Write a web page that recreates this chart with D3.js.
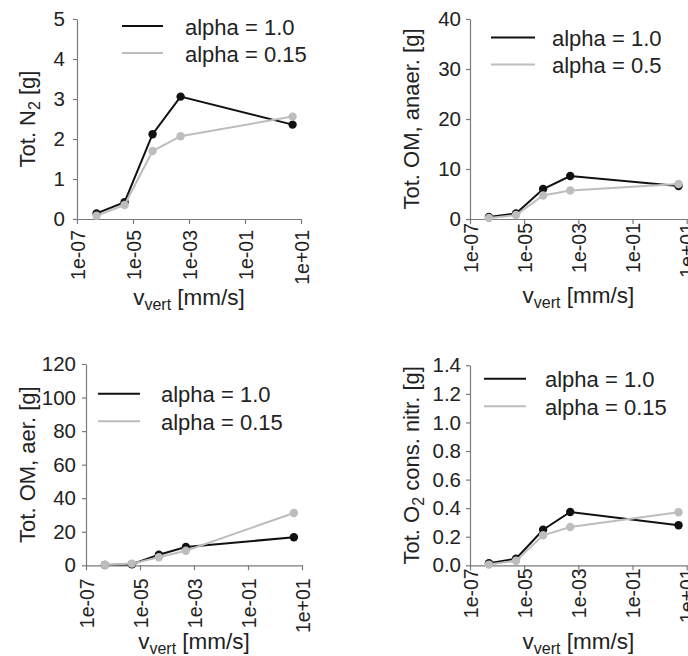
<!DOCTYPE html>
<html>
<head>
<meta charset="utf-8">
<script src="https://cdn.jsdelivr.net/npm/d3@7"></script>
<style>
  html, body { margin: 0; padding: 0; background: #fff; }
  svg { display: block; font-family: "Liberation Sans", Arial, Helvetica, sans-serif; }
</style>
</head>
<body>
<svg id="chart" width="688" height="656"></svg>
<script>
// ---------------- DATA ----------------
const vVert = [5e-7, 5e-6, 5e-5, 5e-4, 5];            // mm/s
const xTicks = [1e-7, 1e-5, 1e-3, 1e-1, 1e1];
const xTickLabels = ["1e-07", "1e-05", "1e-03", "1e-01", "1e+01"];

const n2Alpha1    = [0.14, 0.42, 2.12, 3.06, 2.36];
const n2Alpha015  = [0.08, 0.35, 1.70, 2.07, 2.56];
const n2YTicks    = [0, 1, 2, 3, 4, 5];
const n2Legend    = ["alpha = 1.0", "alpha = 0.15"];

const omAnaAlpha1  = [0.4, 1.1, 6.0, 8.6, 6.6];
const omAnaAlpha05 = [0.2, 0.8, 4.7, 5.7, 7.0];
const omAnaYTicks  = [0, 10, 20, 30, 40];
const omAnaLegend  = ["alpha = 1.0", "alpha = 0.5"];

const omAerAlpha1   = [0.2, 0.6, 6.3, 10.9, 16.7];
const omAerAlpha015 = [0.2, 1.0, 4.8, 8.7, 31.2];
const omAerYTicks   = [0, 20, 40, 60, 80, 100, 120];
const omAerLegend   = ["alpha = 1.0", "alpha = 0.15"];

const o2Alpha1   = [0.014, 0.046, 0.249, 0.373, 0.280];
const o2Alpha015 = [0.005, 0.032, 0.210, 0.268, 0.371];
const o2YTicks   = [0, 0.2, 0.4, 0.6, 0.8, 1.0, 1.2, 1.4];
const o2Legend   = ["alpha = 1.0", "alpha = 0.15"];

// ---------------- STYLE ----------------
const seriesColors = ["#111111", "#bdbdbd"];
const axisColor = "#7a7a7a";
const textColor = "#222222";

// ---------------- LAYOUT ----------------
const panels = [
  { x0: 77, x1: 301, yTop: 19, yBot: 219, yMax: 5, yTicks: n2YTicks, fmt: d3.format("d"),
    series: [n2Alpha1, n2Alpha015], legend: n2Legend,
    title: ["Tot. N", "2", " [g]"], titleX: 35,
    leg: { lx0: 122, lx1: 163, ly: 26, gap: 27, tx: 185 },
    xLabOff: 11, yLabGap: 12, xTitleY: 305 },
  { x0: 470, x1: 686.7, yTop: 19, yBot: 219, yMax: 40, yTicks: omAnaYTicks, fmt: d3.format("d"),
    series: [omAnaAlpha1, omAnaAlpha05], legend: omAnaLegend,
    title: ["Tot. OM, anaer. [g]"], titleX: 419,
    leg: { lx0: 491, lx1: 535, ly: 37.5, gap: 27, tx: 552 },
    xLabOff: 4, yLabGap: 9, xTitleY: 303 },
  { x0: 86, x1: 302, yTop: 364, yBot: 565.3, yMax: 120, yTicks: omAerYTicks, fmt: d3.format("d"),
    series: [omAerAlpha1, omAerAlpha015], legend: omAerLegend,
    title: ["Tot. OM, aer. [g]"], titleX: 35,
    leg: { lx0: 98, lx1: 140, ly: 393.7, gap: 27.6, tx: 161 },
    xLabOff: 13, yLabGap: 10, xTitleY: 649 },
  { x0: 470, x1: 686.7, yTop: 365.3, yBot: 565.3, yMax: 1.4, yTicks: o2YTicks, fmt: d3.format(".1f"),
    series: [o2Alpha1, o2Alpha015], legend: o2Legend,
    title: ["Tot. O", "2", " cons. nitr. [g]"], titleX: 419,
    leg: { lx0: 484, lx1: 526, ly: 378.7, gap: 27.6, tx: 545 },
    xLabOff: 3, yLabGap: 9, xTitleY: 649 }
];

const svg = d3.select("#chart");

panels.forEach(p => {
  const x = d3.scaleLog().domain([1e-7, 1e1]).range([p.x0, p.x1]);
  const y = d3.scaleLinear().domain([0, p.yMax]).range([p.yBot, p.yTop]);
  const g = svg.append("g");

  // Y axis
  const ya = g.append("g").attr("transform", `translate(${p.x0},0)`)
    .call(d3.axisLeft(y).tickValues(p.yTicks).tickFormat(p.fmt).tickSize(4).tickSizeOuter(0));
  ya.select(".domain").attr("stroke", axisColor).attr("stroke-width", 1.2);
  ya.selectAll(".tick line").attr("stroke", axisColor).attr("stroke-width", 1.2);
  ya.selectAll(".tick text").attr("x", -p.yLabGap).attr("fill", textColor)
    .style("font-size", "20.5px").attr("font-family", null);

  // X axis
  const xa = g.append("g").attr("transform", `translate(0,${p.yBot})`)
    .call(d3.axisBottom(x).tickValues(xTicks)
      .tickFormat((d, i) => xTickLabels[i]).tickSize(5).tickSizeOuter(0));
  xa.select(".domain").attr("stroke", axisColor).attr("stroke-width", 1.2);
  xa.selectAll(".tick line").attr("stroke", axisColor).attr("stroke-width", 1.2);
  xa.selectAll(".tick text")
    .attr("transform", "rotate(-90)")
    .attr("x", -p.xLabOff).attr("y", 0).attr("dy", "0.36em")
    .attr("text-anchor", "end").attr("fill", textColor)
    .style("font-size", "19.5px").attr("font-family", null);

  // Series
  const line = d3.line().x((d, i) => x(vVert[i])).y(d => y(d));
  p.series.forEach((s, k) => {
    g.append("path").datum(s).attr("d", line)
      .attr("fill", "none").attr("stroke", seriesColors[k]).attr("stroke-width", 2);
    g.selectAll(null).data(s).enter().append("circle")
      .attr("cx", (d, i) => x(vVert[i])).attr("cy", d => y(d)).attr("r", 4.2)
      .attr("fill", seriesColors[k]);
  });

  // Legend
  p.legend.forEach((lab, k) => {
    const ly = p.leg.ly + k * p.leg.gap;
    g.append("line").attr("x1", p.leg.lx0).attr("x2", p.leg.lx1)
      .attr("y1", ly).attr("y2", ly).attr("stroke", seriesColors[k]).attr("stroke-width", 2);
    g.append("text").attr("x", p.leg.tx).attr("y", ly + 8.5)
      .attr("fill", textColor).style("font-size", "22px").text(lab);
  });

  // Y title
  const cy = (p.yTop + p.yBot) / 2;
  const yt = g.append("text")
    .attr("transform", `translate(${p.titleX},${cy}) rotate(-90)`)
    .attr("text-anchor", "middle").attr("fill", textColor).style("font-size", "22px");
  p.title.forEach((t, i) => {
    const ts = yt.append("tspan").text(t);
    if (i === 1) ts.attr("dy", 5).style("font-size", "16px");
    if (i === 2) ts.attr("dy", -5);
  });

  // X title
  const xt = g.append("text")
    .attr("x", (p.x0 + p.x1) / 2).attr("y", p.xTitleY)
    .attr("text-anchor", "middle").attr("fill", textColor).style("font-size", "22.5px");
  xt.append("tspan").text("v");
  xt.append("tspan").text("vert").attr("dy", 5).style("font-size", "16px");
  xt.append("tspan").text(" [mm/s]").attr("dy", -5);
});
</script>
</body>
</html>
